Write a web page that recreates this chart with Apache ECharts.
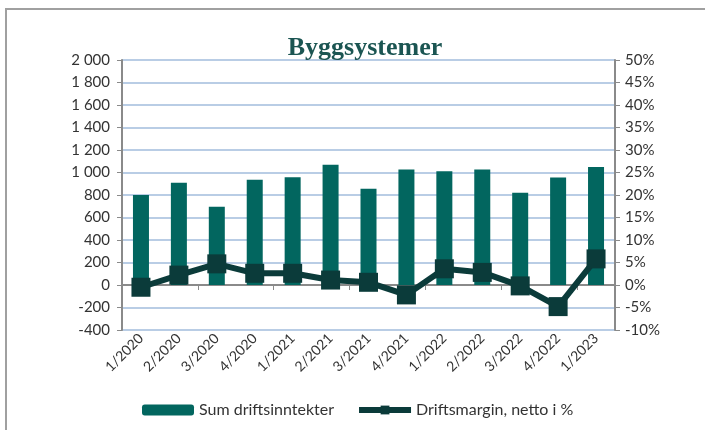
<!DOCTYPE html>
<html>
<head>
<meta charset="utf-8">
<script src="https://cdn.jsdelivr.net/npm/echarts@6/dist/echarts.min.js"></script>
<style>
html, body { margin: 0; padding: 0; background: #fff; }
#main { width: 705px; height: 430px; }
</style>
</head>
<body>
<div id="main"></div>
<script>
// Byggsystemer - driftsinntekter og driftsmargin
var kvartaler = ['1/2020', '2/2020', '3/2020', '4/2020', '1/2021', '2/2021', '3/2021', '4/2021', '1/2022', '2/2022', '3/2022', '4/2022', '1/2023'];
var driftsinntekter = [800, 910, 695, 935, 958, 1070, 855, 1027, 1012, 1027, 821, 955, 1050];
var driftsmargin = [-0.5, 2.2, 4.7, 2.6, 2.6, 1.1, 0.6, -2.2, 3.6, 2.8, -0.2, -4.8, 5.8];

var chart = echarts.init(document.getElementById('main'));
var fontFam = 'Lato, "Open Sans", sans-serif';
var mork = '#0b3b3a';

function fmtTall(v) {
    var s = String(Math.abs(v));
    s = s.replace(/\B(?=(\d{3})+(?!\d))/g, ' ');
    return (v < 0 ? '-' : '') + s;
}

var option = {
    backgroundColor: '#fff',
    animation: false,
    title: {
        text: 'Byggsystemer',
        left: 360,
        textAlign: 'center',
        top: 30,
        textStyle: {
            fontFamily: '"Liberation Serif", serif',
            fontWeight: 'bold',
            fontSize: 26,
            color: '#1b5552'
        }
    },
    graphic: [{
        type: 'rect',
        shape: { x: 6, y: 9, width: 720, height: 440 },
        style: { fill: 'none', stroke: '#a0a0a0', lineWidth: 2 },
        silent: true
    }],
    legend: {
        bottom: 7,
        left: 137,
        itemWidth: 52,
        itemHeight: 11,
        itemGap: 22,
        textStyle: { fontFamily: fontFam, fontSize: 16, color: '#333' },
        data: [
            { name: 'Sum driftsinntekter' },
            { name: 'Driftsmargin, netto i %', lineStyle: { width: 6 } }
        ]
    },
    grid: { left: 122, right: 90, top: 60, bottom: 100 },
    xAxis: [{
        type: 'category',
        data: kvartaler,
        position: 'bottom',
        axisLine: { show: false, onZero: false },
        axisTick: { show: false },
        axisLabel: {
            rotate: 45,
            interval: 0,
            fontFamily: fontFam,
            fontSize: 14,
            color: '#333',
            margin: 6
        }
    }, {
        type: 'category',
        data: kvartaler,
        position: 'bottom',
        axisLine: { show: true, onZero: true, onZeroAxisIndex: 0, lineStyle: { color: '#8a8a8a', width: 2 } },
        axisTick: { show: true, length: 5, lineStyle: { color: '#8a8a8a' } },
        axisLabel: { show: false }
    }],
    yAxis: [{
        type: 'value',
        min: -400,
        max: 2000,
        interval: 200,
        axisLine: { show: true, lineStyle: { color: '#8a8a8a', width: 2 } },
        axisTick: { show: true, length: 5, lineStyle: { color: '#8a8a8a' } },
        splitLine: { lineStyle: { color: '#b9cde5', width: 2 } },
        axisLabel: {
            formatter: fmtTall,
            fontFamily: fontFam,
            fontSize: 15,
            color: '#333',
            margin: 12
        }
    }, {
        type: 'value',
        min: -10,
        max: 50,
        interval: 5,
        position: 'right',
        axisLine: { show: true, lineStyle: { color: '#8a8a8a', width: 2 } },
        axisTick: { show: true, length: 5, lineStyle: { color: '#8a8a8a' } },
        splitLine: { show: false },
        axisLabel: {
            formatter: '{value}%',
            fontFamily: fontFam,
            fontSize: 15,
            color: '#333',
            margin: 10
        }
    }],
    series: [{
        name: 'Sum driftsinntekter',
        type: 'bar',
        xAxisIndex: 0,
        yAxisIndex: 0,
        barWidth: 16,
        itemStyle: { color: '#02665f' },
        data: driftsinntekter
    }, {
        name: 'Driftsmargin, netto i %',
        type: 'line',
        xAxisIndex: 0,
        yAxisIndex: 1,
        symbol: 'rect',
        symbolSize: 19,
        lineStyle: { color: mork, width: 6 },
        itemStyle: { color: mork },
        data: driftsmargin
    }]
};

chart.setOption(option);
</script>
</body>
</html>
